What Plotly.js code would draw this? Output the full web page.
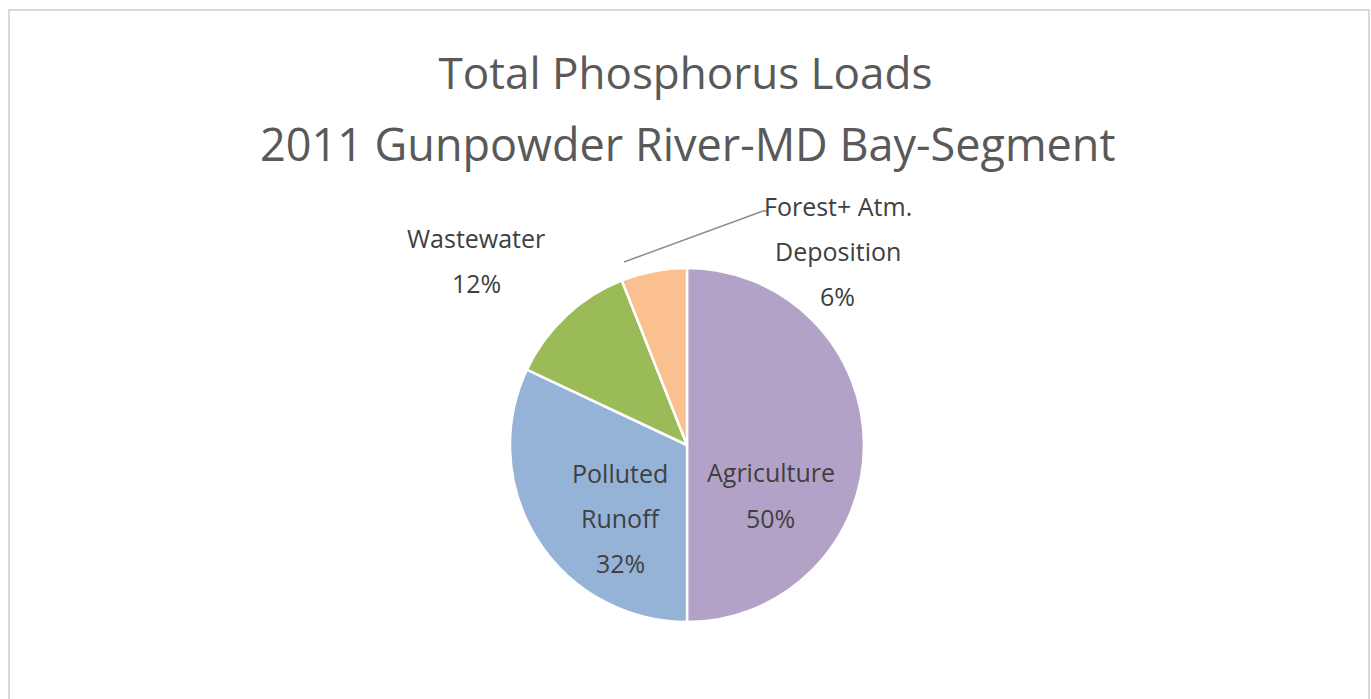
<!DOCTYPE html>
<html>
<head>
<meta charset="utf-8">
<script src="https://cdn.plot.ly/plotly-3.0.1.min.js"></script>
<style>html,body{margin:0;padding:0;background:#fff}#chart{width:1371px;height:699px}</style>
</head>
<body>
<div id="chart"></div>
<script>
// Data
const titleLines = ['Total Phosphorus Loads', '2011 Gunpowder River-MD Bay-Segment'];
const categories = ['Agriculture', 'Polluted Runoff', 'Wastewater', 'Forest+ Atm. Deposition'];
const values = [50, 32, 12, 6];
const labelLines = [['Agriculture'], ['Polluted', 'Runoff'], ['Wastewater'], ['Forest+ Atm.', 'Deposition']];
const colors = ['#B3A2C7', '#95B3D7', '#9BBB59', '#FAC090'];

// Layout helpers (pixel positions of label blocks: center x, first-line y, line step)
const W = 1371, H = 699;
const labelPos = [
  {x: 771, y: 472, step: 46},
  {x: 620, y: 473, step: 45},
  {x: 476, y: 238, step: 45},
  {x: 838, y: 206, step: 45}
];
const px = x => x / W;
const py = y => 1 - y / H;

const total = values.reduce((a, b) => a + b, 0);
const annotations = [];
categories.forEach((c, i) => {
  const lines = labelLines[i].concat([Math.round(values[i] / total * 100) + '%']);
  lines.forEach((t, j) => {
    annotations.push({
      x: px(labelPos[i].x), y: py(labelPos[i].y + j * labelPos[i].step),
      xref: 'paper', yref: 'paper', xanchor: 'center', yanchor: 'middle',
      text: t, showarrow: false,
      font: {family: 'Open Sans, sans-serif', size: 25, color: '#404040'}
    });
  });
});
annotations.push({
  x: px(687), y: py(143), xref: 'paper', yref: 'paper', xanchor: 'center', yanchor: 'middle',
  text: titleLines[1], showarrow: false,
  font: {family: 'Open Sans, sans-serif', size: 45, color: '#595959'}
});

// pie geometry
const cx = 687, cy = 445, r = 177;

const trace = {
  type: 'pie',
  labels: categories,
  values: values,
  sort: false,
  direction: 'clockwise',
  rotation: 0,
  textinfo: 'none',
  hoverinfo: 'label+percent',
  marker: {colors: colors, line: {color: '#ffffff', width: 2.5}},
  domain: {x: [px(cx - r), px(cx + r)], y: [py(cy + r), py(cy - r)]},
  showlegend: false
};

const layout = {
  width: W, height: H,
  margin: {l: 0, r: 0, t: 0, b: 0},
  paper_bgcolor: '#ffffff',
  title: {
    text: titleLines[0],
    x: 0.5, xref: 'paper', xanchor: 'center',
    y: 1 - 74 / H, yref: 'container', yanchor: 'middle',
    font: {family: 'Open Sans, sans-serif', size: 44, color: '#595959'}
  },
  annotations: annotations,
  shapes: [
    {type: 'rect', xref: 'paper', yref: 'paper', x0: px(9), x1: px(1369), y0: py(710), y1: py(10),
     line: {color: '#D9D9D9', width: 2}, fillcolor: 'rgba(0,0,0,0)', layer: 'below'},
    {type: 'path', xref: 'paper', yref: 'paper',
     path: 'M ' + px(624) + ',' + py(262) + ' L ' + px(763) + ',' + py(211) + ' L ' + px(768) + ',' + py(211),
     line: {color: '#8C8C8C', width: 1.5}}
  ]
};

Plotly.newPlot('chart', [trace], layout, {displayModeBar: false, staticPlot: true});
</script>
</body>
</html>
